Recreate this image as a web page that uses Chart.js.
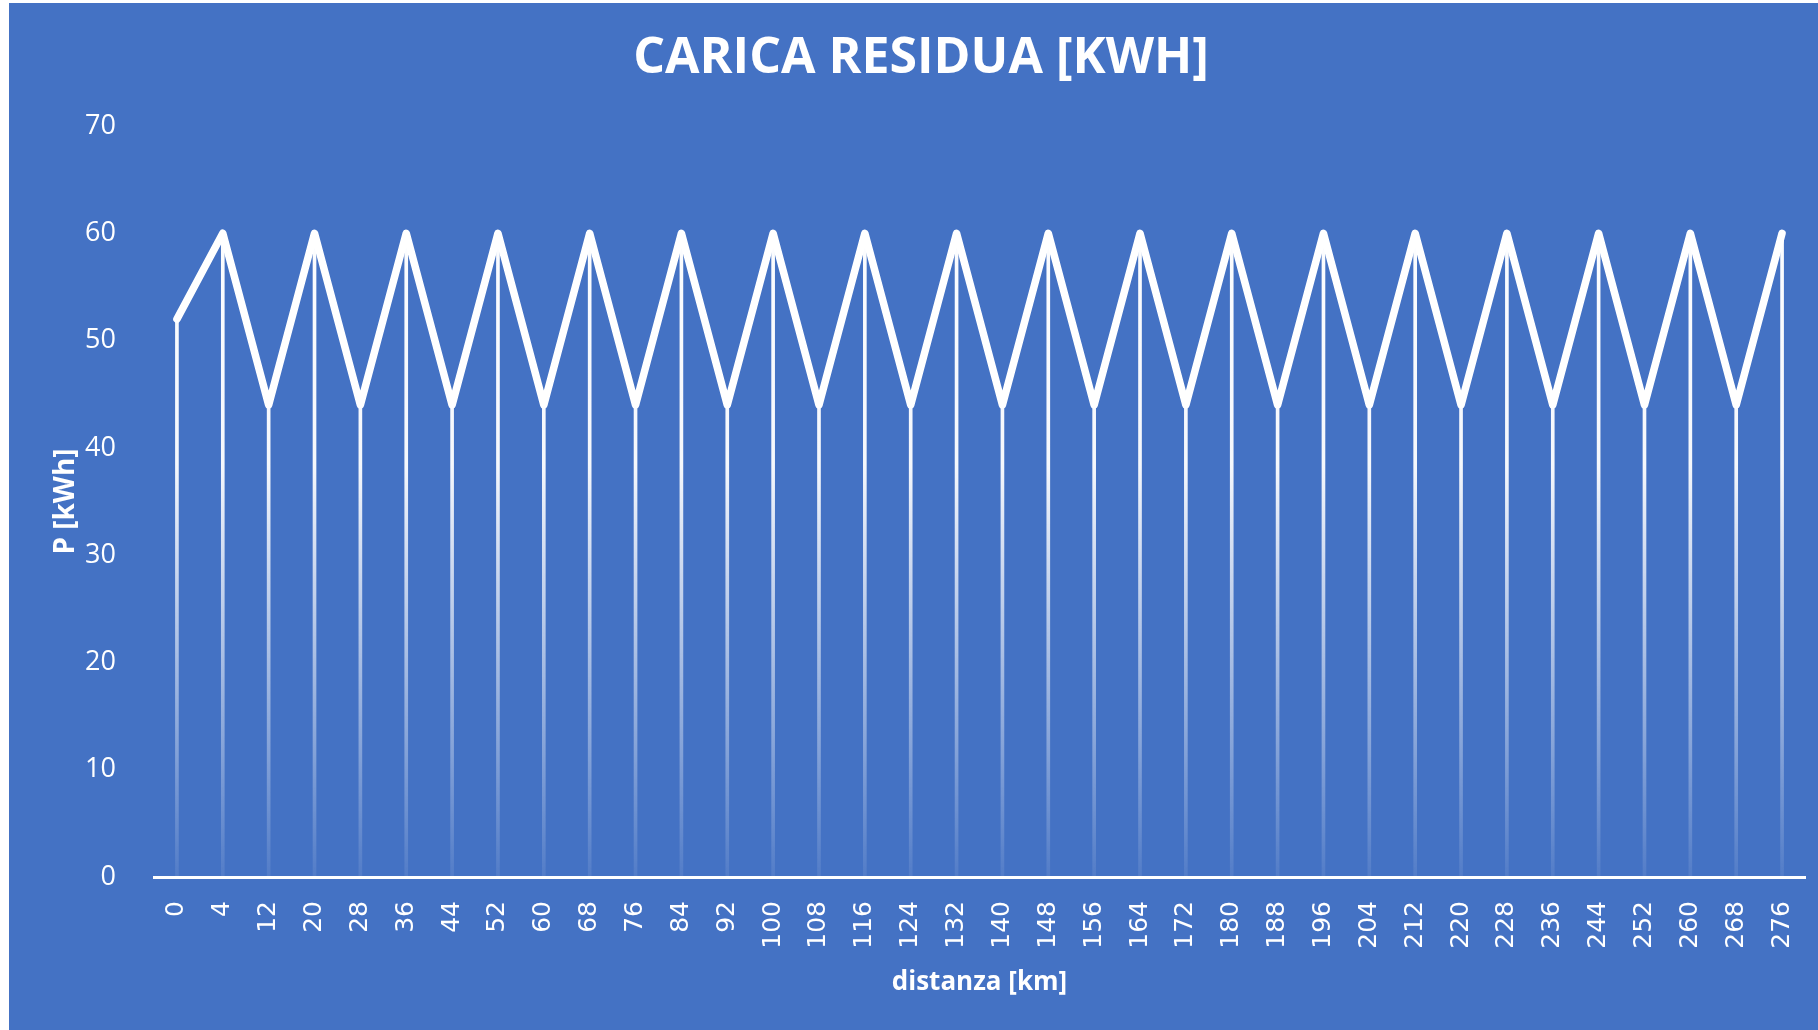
<!DOCTYPE html>
<html lang="it">
<head>
    <meta charset="UTF-8">
    <title>Carica residua [kWh]</title>
    <script src="https://cdn.jsdelivr.net/npm/chart.js"></script>
    <style>
        html, body { margin: 0; padding: 0; background: #ffffff; }
        #box {
            position: absolute;
            left: 9px; top: 3px;
            width: 1809px; height: 1027px;
            background: #4472c4;
        }
    </style>
</head>
<body>
    <div id="box"><canvas id="chart"></canvas></div>
    <script>
        // distanza [km] (categorie) e carica residua [kWh]
        const distanza = ['0', '4', '12', '20', '28', '36', '44', '52', '60', '68', '76', '84',
            '92', '100', '108', '116', '124', '132', '140', '148', '156', '164', '172', '180',
            '188', '196', '204', '212', '220', '228', '236', '244', '252', '260', '268', '276'];
        const carica = [52, 60, 44, 60, 44, 60, 44, 60, 44, 60, 44, 60,
            44, 60, 44, 60, 44, 60, 44, 60, 44, 60, 44, 60,
            44, 60, 44, 60, 44, 60, 44, 60, 44, 60, 44, 60];
        const yTicks = [0, 10, 20, 30, 40, 50, 60, 70];

        const white = '#ffffff';

        // linee di proiezione: bianco in alto, sfumato verso l'asse
        function dropGradient(context) {
            const chart = context.chart;
            const area = chart.chartArea;
            if (!area) return white;
            const g = chart.ctx.createLinearGradient(0, area.top, 0, area.bottom);
            g.addColorStop(0, 'rgba(255,255,255,1)');
            g.addColorStop(0.45, 'rgba(255,255,255,0.95)');
            g.addColorStop(1, 'rgba(255,255,255,0.08)');
            return g;
        }

        new Chart(document.getElementById('chart'), {
            data: {
                labels: distanza,
                datasets: [{
                    type: 'line',
                    data: carica,
                    borderColor: white,
                    borderWidth: 7.5,
                    borderJoinStyle: 'round',
                    borderCapStyle: 'round',
                    pointRadius: 0,
                    tension: 0,
                    order: 0
                }, {
                    type: 'bar',
                    data: carica,
                    backgroundColor: dropGradient,
                    barThickness: 3,
                    order: 1
                }]
            },
            options: {
                responsive: true,
                maintainAspectRatio: false,
                animation: false,
                layout: { padding: { left: 15, right: 0, top: 0, bottom: 0 } },
                plugins: {
                    legend: { display: false },
                    tooltip: { enabled: false },
                    title: {
                        display: true,
                        text: 'CARICA RESIDUA [KWH]',
                        color: white,
                        font: { family: 'Open Sans', size: 50, weight: 'bold', lineHeight: 1.2 },
                        padding: { top: 26, bottom: 37 }
                    }
                },
                scales: {
                    x: {
                        offset: true,
                        grid: { display: false },
                        border: { display: true, color: white, width: 3 },
                        ticks: {
                            color: white,
                            font: { family: 'DejaVu Sans', size: 25 },
                            minRotation: 90,
                            maxRotation: 90,
                            autoSkip: false,
                            padding: 16
                        },
                        title: {
                            display: true,
                            text: 'distanza [km]',
                            color: white,
                            font: { family: 'Open Sans', size: 26, weight: 'bold', lineHeight: 1.2 },
                            padding: { top: 0, bottom: 32 }
                        },
                        afterFit: (scale) => {
                            scale.height = 153;
                            scale.paddingLeft = 0;
                            scale.paddingRight = 13;
                        }
                    },
                    y: {
                        min: 0,
                        max: 70,
                        afterBuildTicks: (scale) => { scale.ticks = yTicks.map(v => ({ value: v })); },
                        grid: { display: false },
                        border: { display: false },
                        ticks: {
                            color: white,
                            font: { family: 'Open Sans', size: 27 },
                            padding: 30
                        },
                        title: {
                            display: true,
                            text: 'P [kWh]',
                            color: white,
                            font: { family: 'Open Sans', size: 28, weight: 'bold', lineHeight: 1.2 },
                            padding: { top: 25, bottom: 0 }
                        },
                        afterFit: (scale) => { scale.width = 130; }
                    }
                }
            }
        });
    </script>
</body>
</html>
